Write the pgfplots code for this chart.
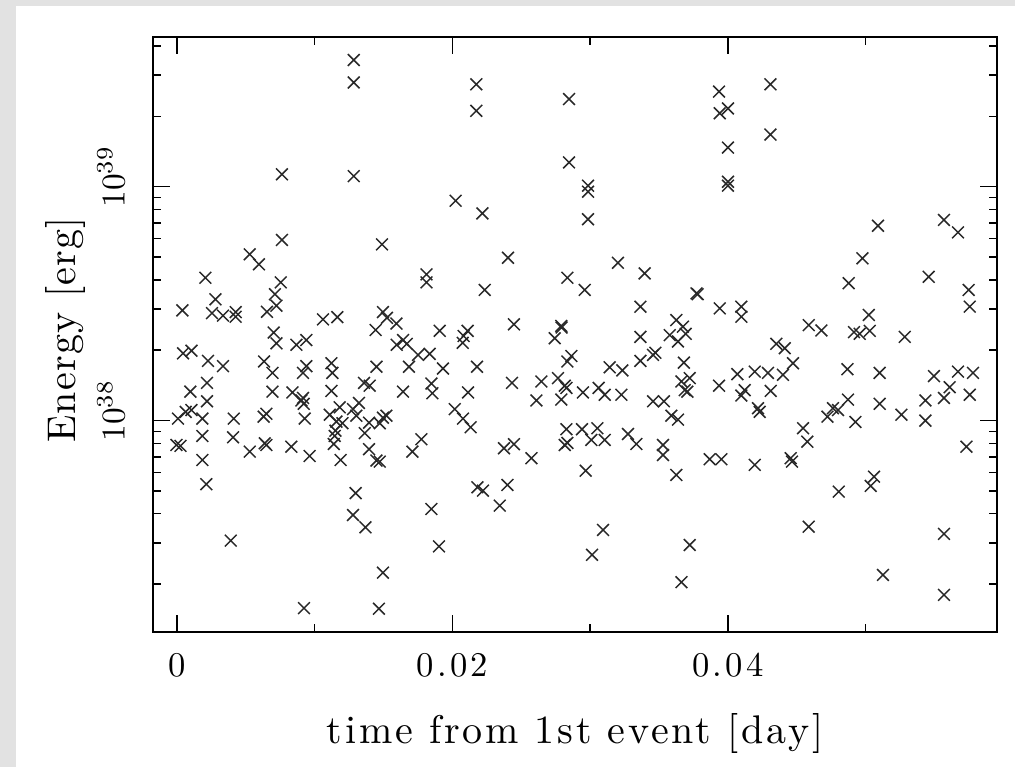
\documentclass[border=0pt]{standalone}
\usepackage{fontspec}
\setmainfont{lmroman10-regular.otf}
\usepackage{pgfplots}
\pgfplotsset{compat=1.18}
\definecolor{bgtex}{RGB}{226,226,226}
\definecolor{markcol}{RGB}{40,40,40}
\begin{document}
\begin{tikzpicture}
\path[use as bounding box] (0,0) rectangle (304.5pt,230.1pt);
\fill[bgtex] (0,0) rectangle (304.5pt,230.1pt);
\fill[white] (4.8pt,0) rectangle (304.5pt,228.3pt);
\begin{axis}[
  at={(45.9pt,40.5pt)}, anchor=south west,
  scale only axis, width=253.2pt, height=178.5pt,
  ymode=log,
  xmin=-0.001742, xmax=0.05953,
  ymin=1.25e37, ymax=4.37e39,
  scaled x ticks=false,
  xtick={0,0.02,0.04}, xticklabels={0,0.02,0.04},
  minor xtick={0.01,0.03,0.05},
  ytick={1e38,1e39},
  yticklabels={\rotatebox{90}{$10^{38}$},\rotatebox{90}{$10^{39}$}},
  minor ytick={2e37,3e37,4e37,5e37,6e37,7e37,8e37,9e37,2e38,3e38,4e38,5e38,6e38,7e38,8e38,9e38,2e39,3e39,4e39},
  tick align=inside,
  xtick pos=both, ytick pos=both,
  major tick length=5.1pt, minor tick length=2.4pt,
  tick style={line width=0.45pt, black},
  axis line style={line width=0.7pt, black},
  xticklabel style={font=\fontsize{10.4}{12}\selectfont\addfontfeatures{LetterSpace=9}, yshift=-2.9pt},
  yticklabel style={font=\fontsize{10.4}{12}\selectfont, anchor=east, xshift=-5pt, yshift=3pt},
  every axis x label/.style={at={(axis description cs:0.5,-0.170)}, anchor=center,
     font=\fontsize{12}{14}\selectfont\addfontfeatures{LetterSpace=7}},
  xlabel={time from 1st event [day]},
]
\addplot[only marks, mark=x, mark size=2.5pt, mark options={line width=0.45pt, markcol}]
table[row sep=\\] {
x y\\
0.01283 3.48e39\\
0.01283 2.79e39\\
0.00762 1.13e39\\
0.01283 1.11e39\\
0.00762 5.92e38\\
0.01488 5.67e38\\
0.00528 5.14e38\\
0.00595 4.66e38\\
0.00206 4.08e38\\
0.00753 3.90e38\\
0.01811 4.22e38\\
0.01811 3.90e38\\
0.00279 3.30e38\\
0.00711 3.47e38\\
0.00722 3.10e38\\
0.00039 2.96e38\\
0.00254 2.88e38\\
0.00334 2.81e38\\
0.00426 2.91e38\\
0.00426 2.78e38\\
0.00653 2.92e38\\
0.01060 2.71e38\\
0.01164 2.77e38\\
0.01495 2.91e38\\
0.01524 2.75e38\\
0.01593 2.60e38\\
0.01442 2.44e38\\
0.00702 2.38e38\\
0.01907 2.42e38\\
0.00722 2.14e38\\
0.00867 2.11e38\\
0.00939 2.21e38\\
0.00044 1.94e38\\
0.00105 1.99e38\\
0.00225 1.80e38\\
0.00334 1.71e38\\
0.00632 1.79e38\\
0.00693 1.60e38\\
0.00939 1.71e38\\
0.00915 1.60e38\\
0.01121 1.76e38\\
0.01128 1.60e38\\
0.01448 1.70e38\\
0.01684 1.70e38\\
0.00218 1.45e38\\
0.00097 1.33e38\\
0.00218 1.21e38\\
0.00693 1.33e38\\
0.00838 1.32e38\\
0.00915 1.25e38\\
0.00920 1.18e38\\
0.00903 1.22e38\\
0.01121 1.34e38\\
0.01358 1.45e38\\
0.01399 1.41e38\\
0.01641 1.33e38\\
0.01847 1.44e38\\
0.01854 1.31e38\\
0.00007 1.02e38\\
0.00063 1.09e38\\
0.00105 1.11e38\\
0.00184 1.02e38\\
0.00412 1.02e38\\
0.00629 1.04e38\\
0.00649 1.07e38\\
0.00927 1.02e38\\
0.01109 1.06e38\\
0.01181 1.14e38\\
0.01157 9.90e37\\
0.01201 9.75e37\\
0.01278 1.12e38\\
0.01321 1.19e38\\
0.01302 1.05e38\\
0.01394 9.80e37\\
0.01472 9.75e37\\
0.01495 1.03e38\\
0.01520 1.05e38\\
0.01150 9.06e37\\
0.00184 8.60e37\\
0.00407 8.49e37\\
-0.00004 7.87e37\\
0.00025 7.80e37\\
0.00637 8.00e37\\
0.00649 7.87e37\\
0.00528 7.37e37\\
0.00830 7.74e37\\
0.00963 7.06e37\\
0.01138 7.95e37\\
0.01145 8.60e37\\
0.01188 6.79e37\\
0.01363 8.84e37\\
0.01394 7.55e37\\
0.01448 6.75e37\\
0.01472 6.68e37\\
0.01774 8.33e37\\
0.01709 7.37e37\\
0.00184 6.79e37\\
0.00213 5.35e37\\
0.01297 4.90e37\\
0.01278 3.95e37\\
0.01368 3.50e37\\
0.01847 4.19e37\\
0.00390 3.07e37\\
0.01902 2.90e37\\
0.01495 2.24e37\\
0.00922 1.58e37\\
0.01466 1.57e37\\
0.02173 2.74e39\\
0.02173 2.11e39\\
0.02846 2.37e39\\
0.03935 2.55e39\\
0.03940 2.06e39\\
0.04000 2.16e39\\
0.04308 2.74e39\\
0.04308 1.67e39\\
0.04000 1.47e39\\
0.04000 1.05e39\\
0.04000 1.01e39\\
0.02846 1.27e39\\
0.02984 1.01e39\\
0.02984 9.52e38\\
0.02984 7.26e38\\
0.02023 8.71e38\\
0.02217 7.69e38\\
0.02403 4.97e38\\
0.03201 4.73e38\\
0.03395 4.26e38\\
0.02834 4.08e38\\
0.02234 3.62e38\\
0.02960 3.62e38\\
0.03771 3.50e38\\
0.03780 3.47e38\\
0.03364 3.07e38\\
0.03940 3.02e38\\
0.02110 2.42e38\\
0.02081 2.30e38\\
0.02074 2.15e38\\
0.02446 2.58e38\\
0.02790 2.54e38\\
0.02792 2.50e38\\
0.03625 2.69e38\\
0.03673 2.52e38\\
0.03693 2.35e38\\
0.03637 2.18e38\\
0.03364 2.28e38\\
0.03577 2.32e38\\
0.02742 2.25e38\\
0.01931 1.67e38\\
0.02178 1.70e38\\
0.02113 1.32e38\\
0.02432 1.45e38\\
0.02645 1.47e38\\
0.02609 1.22e38\\
0.02766 1.52e38\\
0.02815 1.41e38\\
0.02827 1.38e38\\
0.02790 1.23e38\\
0.02834 1.79e38\\
0.02863 1.89e38\\
0.02947 1.32e38\\
0.03061 1.38e38\\
0.03105 1.29e38\\
0.03141 1.69e38\\
0.03233 1.64e38\\
0.03226 1.29e38\\
0.03364 1.80e38\\
0.03456 1.91e38\\
0.03473 1.95e38\\
0.03680 1.77e38\\
0.03662 1.47e38\\
0.03722 1.52e38\\
0.03686 1.35e38\\
0.03705 1.33e38\\
0.03935 1.41e38\\
0.03456 1.21e38\\
0.03535 1.21e38\\
0.03589 1.05e38\\
0.03637 1.01e38\\
0.02016 1.12e38\\
0.02076 1.02e38\\
0.02132 9.37e37\\
0.02374 7.62e37\\
0.02446 7.93e37\\
0.02573 6.91e37\\
0.02827 9.19e37\\
0.02815 7.87e37\\
0.02834 8.03e37\\
0.02940 9.19e37\\
0.03052 9.28e37\\
0.03008 8.27e37\\
0.03105 8.27e37\\
0.03274 8.77e37\\
0.03335 7.95e37\\
0.03528 7.87e37\\
0.03528 7.13e37\\
0.02967 6.11e37\\
0.03625 5.86e37\\
0.03867 6.84e37\\
0.03952 6.84e37\\
0.02181 5.19e37\\
0.02221 5.02e37\\
0.02399 5.31e37\\
0.02343 4.33e37\\
0.03093 3.41e37\\
0.03013 2.67e37\\
0.03722 2.94e37\\
0.03662 2.04e37\\
0.05089 6.81e38\\
0.05568 7.21e38\\
0.05670 6.38e38\\
0.04976 4.94e38\\
0.04876 3.87e38\\
0.05457 4.12e38\\
0.05747 3.62e38\\
0.05755 3.07e38\\
0.04097 3.07e38\\
0.04097 2.78e38\\
0.04586 2.56e38\\
0.04678 2.43e38\\
0.04915 2.39e38\\
0.04956 2.35e38\\
0.05022 2.83e38\\
0.05029 2.42e38\\
0.05283 2.28e38\\
0.04351 2.13e38\\
0.04412 2.04e38\\
0.04472 1.76e38\\
0.04068 1.58e38\\
0.04194 1.62e38\\
0.04290 1.60e38\\
0.04399 1.57e38\\
0.04867 1.66e38\\
0.05101 1.60e38\\
0.05495 1.55e38\\
0.05670 1.62e38\\
0.05779 1.60e38\\
0.05609 1.39e38\\
0.05568 1.25e38\\
0.05755 1.29e38\\
0.04121 1.35e38\\
0.04097 1.28e38\\
0.04310 1.34e38\\
0.04218 1.13e38\\
0.04230 1.09e38\\
0.04871 1.23e38\\
0.04762 1.13e38\\
0.04799 1.11e38\\
0.04722 1.04e38\\
0.04925 9.87e37\\
0.05101 1.18e38\\
0.05259 1.06e38\\
0.05433 1.22e38\\
0.05433 1.00e38\\
0.04545 9.28e37\\
0.04576 8.13e37\\
0.05731 7.74e37\\
0.04194 6.47e37\\
0.04455 6.91e37\\
0.04465 6.68e37\\
0.05060 5.76e37\\
0.05036 5.26e37\\
0.04804 4.97e37\\
0.04586 3.52e37\\
0.05568 3.28e37\\
0.05125 2.19e37\\
0.05568 1.80e37\\
0.01595 2.11e38\\
0.01641 2.21e38\\
0.01668 2.13e38\\
0.01750 1.91e38\\
0.01834 1.93e38\\
};
\end{axis}
\node[rotate=90, anchor=center, font=\fontsize{12}{14}\selectfont\addfontfeatures{LetterSpace=3}]
  at (19.5pt,131.1pt) {Energy [erg]};
\end{tikzpicture}
\end{document}
